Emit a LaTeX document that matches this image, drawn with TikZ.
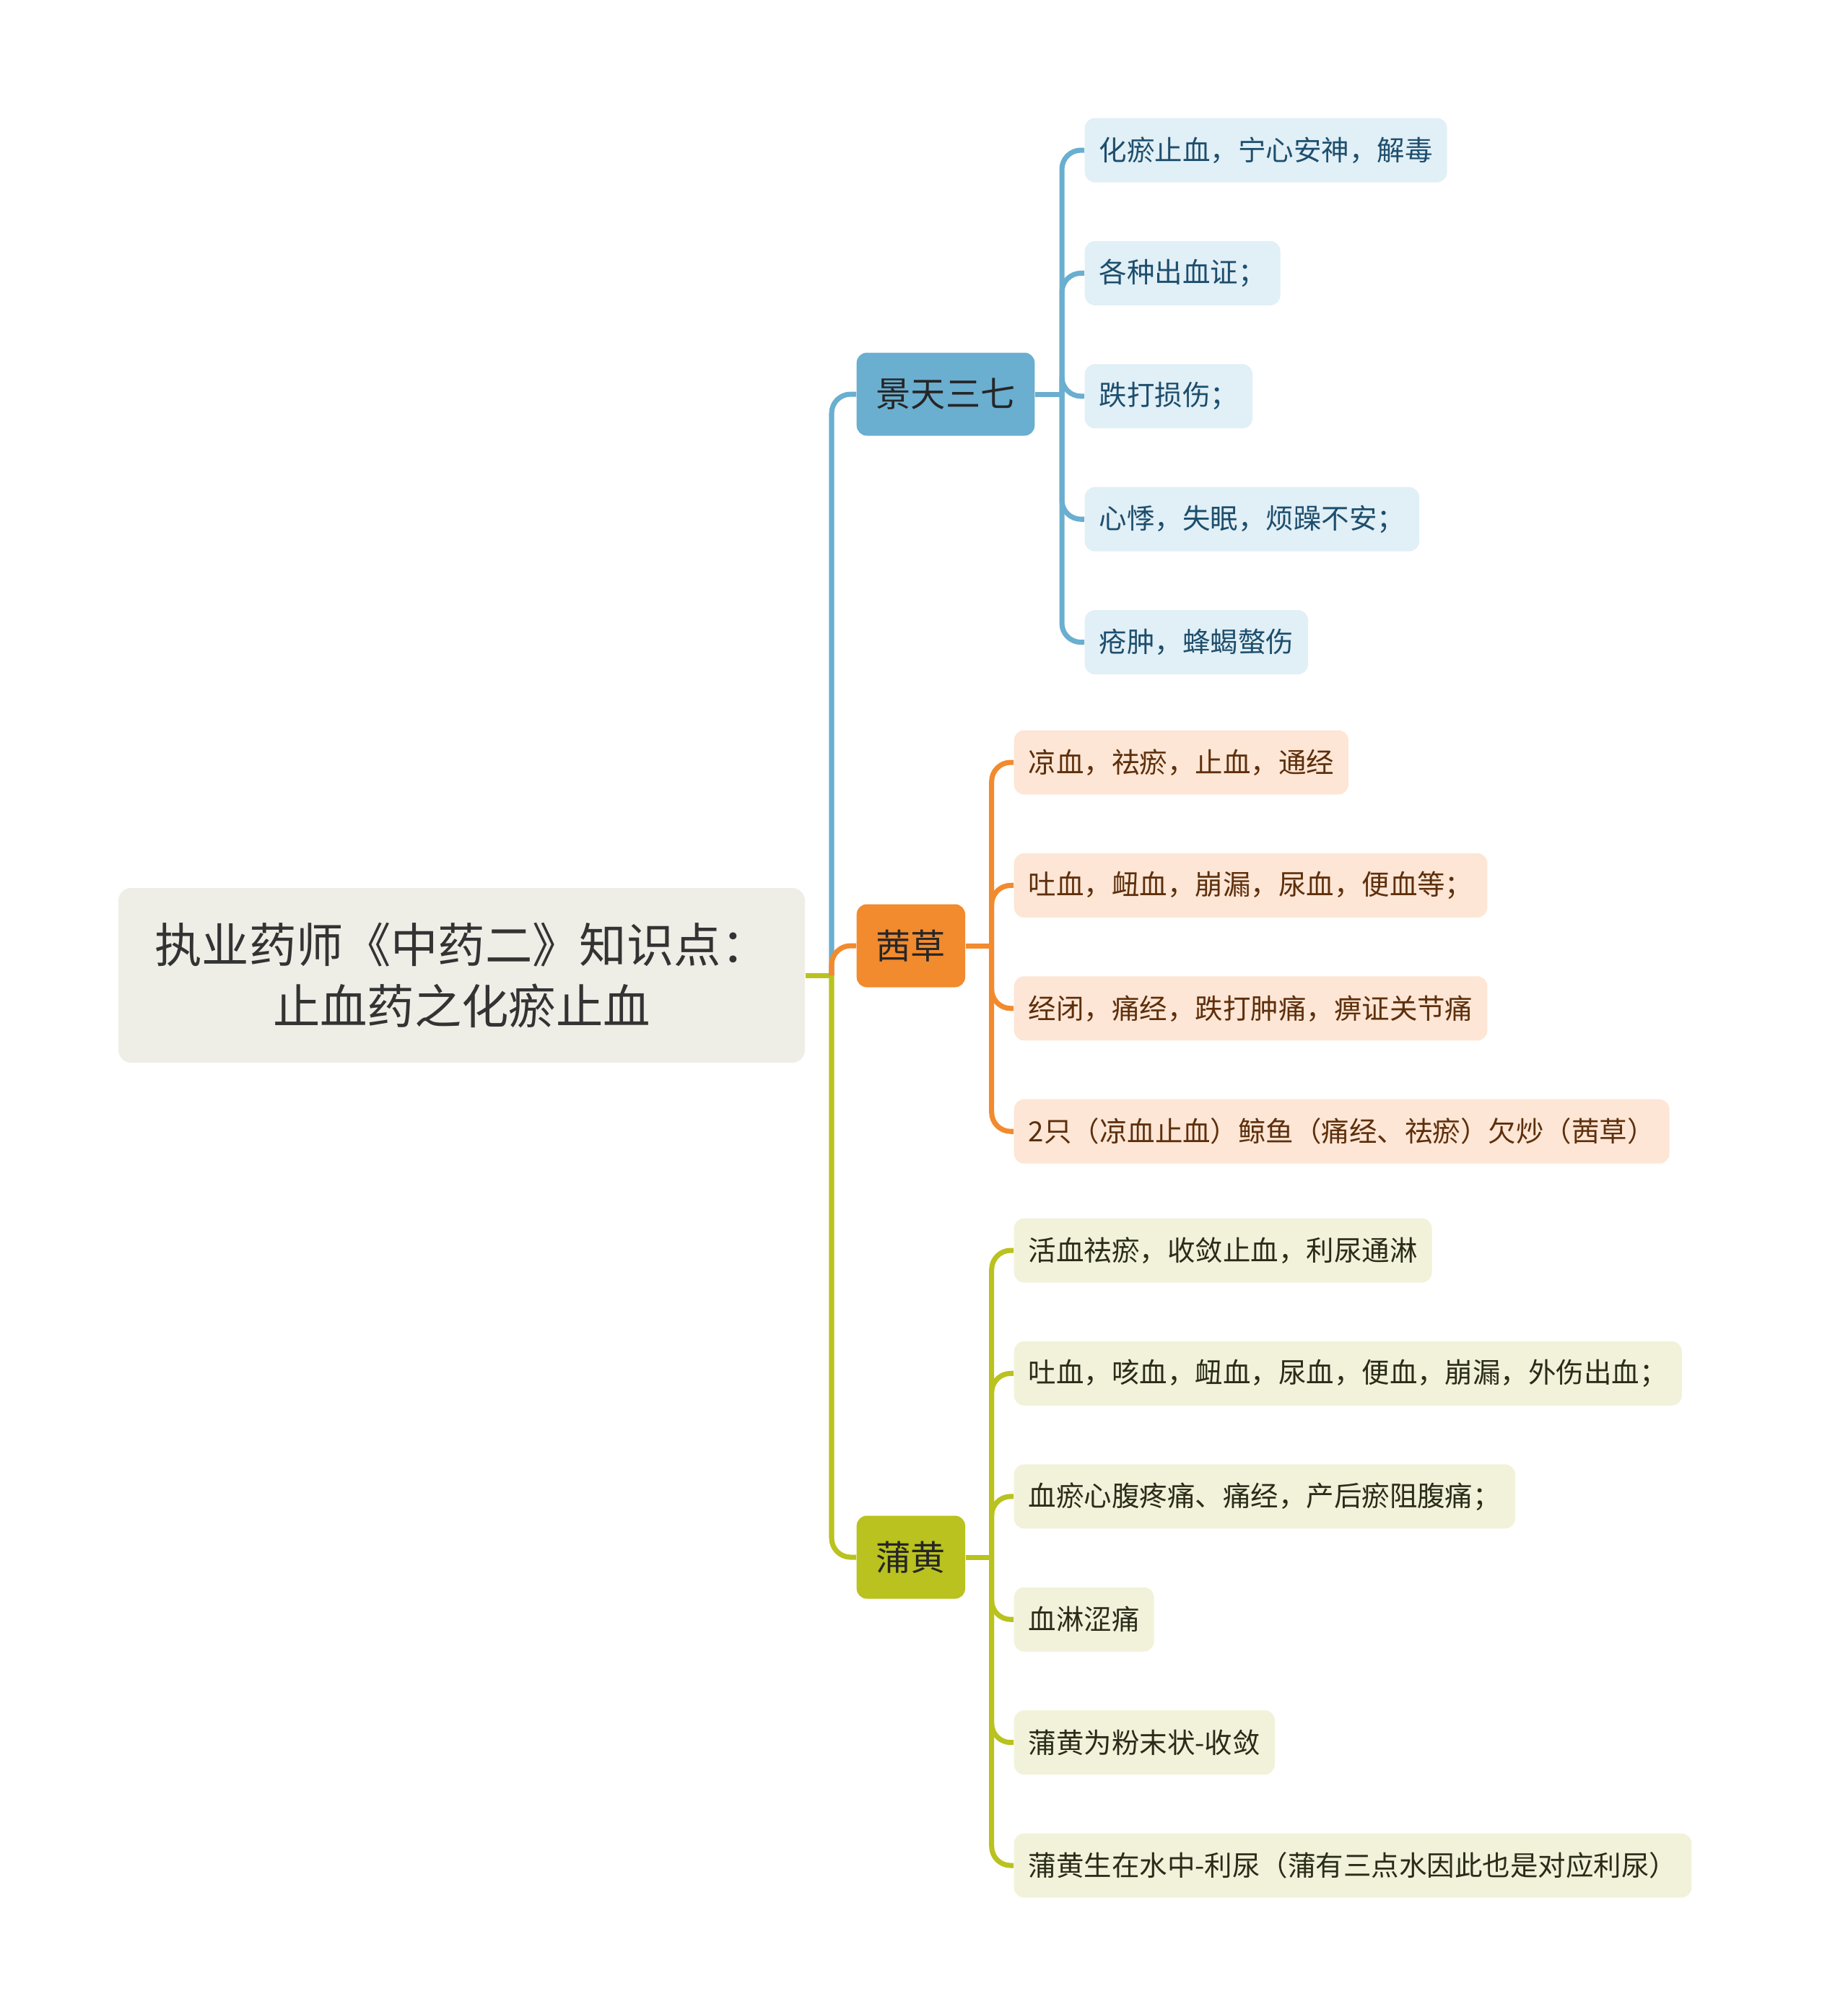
\documentclass[tikz,border=0pt]{standalone}
\usepackage{fontspec}
\setmainfont{Noto Sans CJK SC}
\usepackage{xcolor}
\usepackage{tikz}
\usetikzlibrary{positioning}
\definecolor{rootfill}{HTML}{EEEEE7}
\definecolor{roottext}{HTML}{333333}
\definecolor{jtmain}{HTML}{6AAED0}
\definecolor{jtpale}{HTML}{E1EFF6}
\definecolor{jttext}{HTML}{1D4E6D}
\definecolor{qcmain}{HTML}{F28A2E}
\definecolor{qcpale}{HTML}{FDE6D5}
\definecolor{qctext}{HTML}{5E2F0C}
\definecolor{phmain}{HTML}{B9C21E}
\definecolor{phpale}{HTML}{F1F2D9}
\definecolor{phtext}{HTML}{2B2B1A}
\tikzset{
    rootbox/.style={rectangle, rounded corners=5pt, fill=rootfill,
        text=roottext, align=center, minimum width=9.51cm,
        minimum height=2.42cm, font=\fontsize{18.6}{24.4}\selectfont},
    topic/.style={rectangle, rounded corners=4pt, fill=#1main,
        text=black!85, inner xsep=0.27cm, minimum height=1.15cm,
        font=\fontsize{13.7}{16}\selectfont},
    leaf/.style={rectangle, rounded corners=4pt, fill=#1pale,
        text=#1text, inner xsep=0.2cm, minimum height=0.89cm,
        font=\fontsize{10.95}{13}\selectfont},
    link/.style={line width=2pt, draw=#1main, rounded corners=7.5pt},
}
\begin{document}
\begin{tikzpicture}[node distance=0.8cm]
    \useasboundingbox (0,0) rectangle (25.6,-27.87);

    % ── Root ───────────────────────────────────────────────────────────────
    \node[rootbox] (root) at (6.395,-13.51)
        {执业药师《中药二》知识点：\\止血药之化瘀止血};
    \coordinate (hub) at (11.52,-13.51);

    % ── Main topics ────────────────────────────────────────────────────────
    \node[topic=jt, anchor=west] (jt) at (11.86,-5.46) {景天三七};
    \node[topic=qc, anchor=west] (qc) at (11.86,-13.10) {茜草};
    \node[topic=ph, anchor=west] (ph) at (11.86,-21.57) {蒲黄};

    % ── 景天三七 leaves ────────────────────────────────────────────────────
    \node[leaf=jt, anchor=west] (jt1) at (15.02,-2.08) {化瘀止血，宁心安神，解毒};
    \node[leaf=jt, below=of jt1.south west, anchor=north west] (jt2) {各种出血证；};
    \node[leaf=jt, below=of jt2.south west, anchor=north west] (jt3) {跌打损伤；};
    \node[leaf=jt, below=of jt3.south west, anchor=north west] (jt4) {心悸，失眠，烦躁不安；};
    \node[leaf=jt, below=of jt4.south west, anchor=north west] (jt5) {疮肿，蜂蝎螫伤};

    % ── 茜草 leaves ────────────────────────────────────────────────────────
    \node[leaf=qc, anchor=west] (qc1) at (14.04,-10.56) {凉血，祛瘀，止血，通经};
    \node[leaf=qc, below=of qc1.south west, anchor=north west] (qc2) {吐血，衄血，崩漏，尿血，便血等；};
    \node[leaf=qc, below=of qc2.south west, anchor=north west] (qc3) {经闭，痛经，跌打肿痛，痹证关节痛};
    \node[leaf=qc, below=of qc3.south west, anchor=north west] (qc4) {2只（凉血止血）鲸鱼（痛经、祛瘀）欠炒（茜草）};

    % ── 蒲黄 leaves ────────────────────────────────────────────────────────
    \node[leaf=ph, anchor=west] (ph1) at (14.04,-17.32) {活血祛瘀，收敛止血，利尿通淋};
    \node[leaf=ph, below=of ph1.south west, anchor=north west] (ph2) {吐血，咳血，衄血，尿血，便血，崩漏，外伤出血；};
    \node[leaf=ph, below=of ph2.south west, anchor=north west] (ph3) {血瘀心腹疼痛、痛经，产后瘀阻腹痛；};
    \node[leaf=ph, below=of ph3.south west, anchor=north west] (ph4) {血淋涩痛};
    \node[leaf=ph, below=of ph4.south west, anchor=north west] (ph5) {蒲黄为粉末状-收敛};
    \node[leaf=ph, below=of ph5.south west, anchor=north west] (ph6) {蒲黄生在水中-利尿（蒲有三点水因此也是对应利尿）};

    % ── Trunk ──────────────────────────────────────────────────────────────
    \draw[link=ph] (root.east) -- (hub);
    \draw[link=ph] (hub) |- (ph.west);
    \draw[link=jt] (hub) |- (jt.west);
    \draw[link=qc] (hub) |- (qc.west);

    % ── Branches ───────────────────────────────────────────────────────────
    \path (jt.east) ++(0.37,0) coordinate (jtfork);
    \path (qc.east) ++(0.36,0) coordinate (qcfork);
    \path (ph.east) ++(0.36,0) coordinate (phfork);
    \draw[link=jt] (jt.east) -- (jtfork);
    \draw[link=qc] (qc.east) -- (qcfork);
    \draw[link=ph] (ph.east) -- (phfork);
    \foreach \k in {1,...,5}
        \draw[link=jt] (jtfork) |- (jt\k.west);
    \foreach \k in {1,...,4}
        \draw[link=qc] (qcfork) |- (qc\k.west);
    \foreach \k in {1,...,6}
        \draw[link=ph] (phfork) |- (ph\k.west);

\end{tikzpicture}
\end{document}
